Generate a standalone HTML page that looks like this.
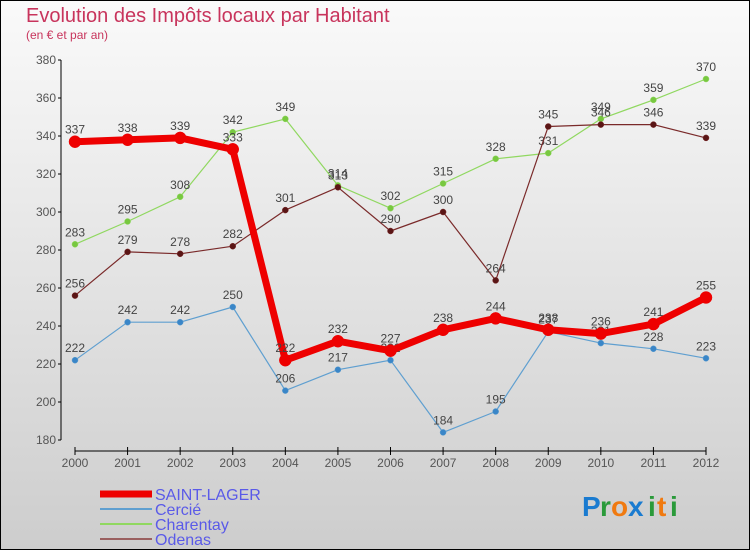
<!DOCTYPE html>
<html><head><meta charset="utf-8"><style>
html,body{margin:0;padding:0;}
body{width:750px;height:550px;overflow:hidden;font-family:"Liberation Sans",sans-serif;}
</style></head><body>
<svg id="chart" width="750" height="550" xmlns="http://www.w3.org/2000/svg">
<defs><linearGradient id="bg" x1="0" y1="0" x2="0" y2="1"><stop offset="0" stop-color="#fafafa"/><stop offset="1" stop-color="#cdcdcd"/></linearGradient></defs>
<rect x="0.5" y="0.5" width="749" height="549" fill="url(#bg)" stroke="#000"/>
<text x="26" y="22" font-size="20" fill="#c8345c">Evolution des Impôts locaux par Habitant</text>
<text x="26" y="39" font-size="12" fill="#c8345c">(en € et par an)</text>
<g id="axes"></g>
<g id="series"></g>
<g id="legend"></g>
<g font-size="28" font-weight="bold" font-family="Liberation Sans, sans-serif">
<text x="582" y="516" fill="#1a7bd0">P</text><text x="600" y="516" fill="#2a9a3a">r</text><text x="611" y="516" fill="#f07a10">o</text><text x="628" y="516" fill="#1a7bd0">x</text><text x="648" y="516" fill="#2a9a3a">i</text><text x="657" y="516" fill="#f07a10">t</text><text x="670" y="516" fill="#2a9a3a">i</text>
</g>
</svg>
<script>
const years=[2000,2001,2002,2003,2004,2005,2006,2007,2008,2009,2010,2011,2012];
const saintLager=[337,338,339,333,222,232,227,238,244,238,236,241,255];
const cercie=[222,242,242,250,206,217,222,184,195,237,231,228,223];
const charentay=[283,295,308,342,349,314,302,315,328,331,349,359,370];
const odenas=[256,279,278,282,301,313,290,300,264,345,346,346,339];
const yTicks=[180,200,220,240,260,280,300,320,340,360,380];
const NS='http://www.w3.org/2000/svg';
function X(i){return 75+i*(706-75)/12;}
function Y(v){return 60+(380-v)*1.9;}
function mk(tag,attrs,parent){const e=document.createElementNS(NS,tag);for(const k in attrs)e.setAttribute(k,attrs[k]);parent.appendChild(e);return e;}
const axes=document.getElementById('axes');
const ya=mk('line',{x1:61,y1:60,x2:61,y2:440,stroke:'#000','stroke-width':1},axes);


yTicks.forEach(v=>{
 mk('line',{x1:58,y1:Y(v),x2:61,y2:Y(v),stroke:'#000'},axes);
 const t=mk('text',{x:56,y:Y(v)+4,'text-anchor':'end','font-size':12,fill:'#555'},axes);
 t.textContent=v;
 
 
});
const xa=mk('line',{x1:75,y1:451,x2:706,y2:451,stroke:'#000','stroke-width':1},axes);


years.forEach((yr,i)=>{
 mk('line',{x1:X(i),y1:447,x2:X(i),y2:455,stroke:'#000'},axes);
 const t=mk('text',{x:X(i),y:467,'text-anchor':'middle','font-size':12,fill:'#555'},axes);
 t.textContent=yr;
 
 
});
const sg=document.getElementById('series');
function draw(vals,color,dot,w,r,name){
 const g=mk('g',{},sg);
 
 
 mk('polyline',{points:vals.map((v,i)=>X(i)+','+Y(v)).join(' '),fill:'none',stroke:color,'stroke-width':w,'stroke-linejoin':'round'},g);
 vals.forEach((v,i)=>{
  const c=mk('circle',{cx:X(i),cy:Y(v),r:r,fill:dot,stroke:color,'stroke-width':0.5},g);
  
  
  const t=mk('text',{x:X(i),y:Y(v)-8,'text-anchor':'middle','font-size':12,fill:'#444'},g);
  t.textContent=v;
  
  
 });
}
draw(cercie,'#5f9fd0','#3a86c8',1.2,3,'cercie');
draw(charentay,'#90d860','#78c840',1.2,3,'charentay');
draw(odenas,'#7a2a2a','#5a1515',1.2,3,'odenas');
draw(saintLager,'#ee0000','#ee0000',7,6,'saint-lager');
const lg=document.getElementById('legend');
const items=[['SAINT-LAGER','#ee0000',7],['Cercié','#5f9fd0',2],['Charentay','#90d860',2],['Odenas','#9a6060',2]];
items.forEach((it,i)=>{
 const y=494+i*15;
 const g=mk('g',{},lg);
 
 
 mk('line',{x1:100,y1:y,x2:152,y2:y,stroke:it[1],'stroke-width':it[2]},g);
 const t=mk('text',{x:155,y:y+6,'font-size':16,fill:'#5a5ae8'},g);
 t.textContent=it[0];
});
</script>
</body></html>
